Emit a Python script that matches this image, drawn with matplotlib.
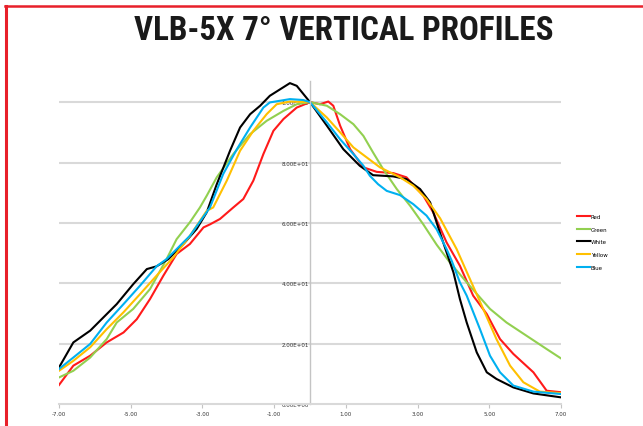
import matplotlib
matplotlib.use("Agg")
import matplotlib.pyplot as plt
from matplotlib.lines import Line2D

title = "VLB-5X 7° VERTICAL PROFILES"
series_names = ["Red", "Green", "White", "Yellow", "Blue"]
series_colors = ["#ff1a1a", "#92d050", "#000000", "#ffc000", "#00b0f0"]

red_x = [-7.0, -6.6, -6.13, -5.67, -5.2, -4.83, -4.46, -4.09, -3.72, -3.35, -2.97, -2.79, -2.51, -2.14, -1.86,
         -1.58, -1.3, -1.02, -0.74, -0.37, 0.0, 0.28, 0.51, 0.65, 0.84, 1.12, 1.49, 1.86, 2.32, 2.69, 3.16,
         3.44, 3.81, 4.18, 4.55, 4.93, 5.3, 5.67, 6.23, 6.6, 7.0]
red_y = [6.3, 12.7, 16.0, 20.4, 23.7, 28.1, 34.8, 42.5, 49.7, 53.0, 58.5, 59.5, 61.3, 65.1, 67.9,
         74.0, 82.8, 90.5, 94.4, 98.2, 100.0, 99.3, 100.2, 98.8, 92.2, 84.4, 78.4, 76.9, 76.5, 75.1, 69.0,
         63.4, 53.5, 45.8, 35.9, 29.8, 21.5, 16.6, 10.5, 4.4, 3.9]

green_x = [-7.0, -6.6, -6.13, -5.67, -5.39, -4.93, -4.46, -4.0, -3.72, -3.35, -3.07, -2.88, -2.6, -2.14, -1.67,
           -1.21, -0.74, -0.37, 0.0, 0.47, 0.84, 1.21, 1.49, 1.76, 2.04, 2.42, 2.79, 3.16, 3.53, 3.9, 4.37,
           5.02, 5.48, 6.04, 6.6, 7.0]
green_y = [8.8, 11.0, 15.4, 21.5, 27.0, 31.5, 38.1, 48.0, 54.6, 60.2, 65.1, 69.0, 75.1, 82.8, 89.4,
           93.8, 97.1, 99.3, 100.0, 98.8, 96.0, 92.7, 88.8, 83.3, 77.8, 71.2, 65.7, 59.5, 52.8, 46.9, 40.3,
           31.5, 27.0, 22.6, 18.2, 15.1]

white_x = [-7.0, -6.6, -6.13, -5.39, -4.93, -4.55, -4.28, -3.95, -3.53, -3.16, -2.88, -2.6, -2.23, -1.95, -1.67,
           -1.39, -1.12, -0.56, -0.37, 0.0, 0.47, 0.93, 1.39, 1.76, 2.32, 2.69, 3.07, 3.35, 3.63, 4.0, 4.18,
           4.37, 4.65, 4.93, 5.2, 5.67, 6.23, 7.0]
white_y = [12.1, 20.4, 24.3, 33.1, 39.7, 44.7, 45.6, 48.0, 53.0, 58.0, 63.5, 72.8, 83.9, 91.6, 96.0,
           98.8, 102.1, 106.3, 105.4, 100.0, 92.2, 84.4, 78.9, 75.8, 75.4, 74.5, 71.2, 66.8, 56.5, 43.6, 34.8,
           27.0, 17.1, 10.5, 8.3, 5.5, 3.5, 2.2]

yellow_x = [-7.0, -6.6, -6.13, -5.67, -5.2, -4.74, -4.28, -3.81, -3.35, -2.88, -2.7, -2.32, -1.95, -1.58, -1.21,
            -0.93, -0.56, 0.0, 0.47, 0.84, 1.21, 1.58, 1.95, 2.51, 2.88, 3.25, 3.63, 4.09, 4.46, 4.83, 5.2,
            5.58, 5.95, 6.41, 7.0]
yellow_y = [11.0, 14.3, 18.8, 24.8, 30.4, 36.4, 42.5, 48.6, 55.7, 64.0, 65.1, 74.0, 83.9, 90.5, 96.0,
            99.3, 100.2, 100.0, 94.9, 90.0, 85.0, 81.7, 78.4, 75.1, 72.3, 67.9, 61.5, 51.3, 41.4, 31.5, 21.5,
            12.7, 7.2, 4.1, 3.6]

blue_x = [-7.0, -6.6, -6.13, -5.67, -5.2, -4.74, -4.28, -4.0, -3.72, -3.35, -2.88, -2.79, -2.42, -2.04, -1.67,
          -1.3, -1.12, -0.56, -0.19, 0.0, 0.47, 0.84, 1.21, 1.49, 1.67, 1.9, 2.14, 2.51, 2.88, 3.25, 3.53,
          3.81, 3.95, 4.18, 4.37, 4.74, 5.02, 5.3, 5.67, 6.23, 7.0]
blue_y = [11.6, 15.4, 19.9, 27.0, 33.1, 39.2, 45.6, 48.0, 51.3, 55.7, 63.6, 65.1, 76.2, 84.4, 91.6,
          98.2, 99.9, 101.0, 100.7, 100.0, 93.3, 87.7, 82.8, 78.9, 75.6, 72.8, 70.6, 69.2, 66.2, 62.4, 57.9,
          51.3, 47.5, 40.3, 35.9, 24.8, 16.0, 10.5, 6.1, 4.1, 3.3]

x_ticks = [-7, -5, -3, -1, 1, 3, 5, 7]
x_tick_labels = ["-7.00", "-5.00", "-3.00", "-1.00", "1.00", "3.00", "5.00", "7.00"]
y_ticks = [0, 20, 40, 60, 80, 100]
y_tick_labels = ["0.00E+00", "2.00E+01", "4.00E+01", "6.00E+01", "8.00E+01", "1.00E+02"]

xs = [red_x, green_x, white_x, yellow_x, blue_x]
ys = [red_y, green_y, white_y, yellow_y, blue_y]

W, H = 643, 427
fig = plt.figure(figsize=(W / 100, H / 100), dpi=100)
fig.patch.set_facecolor("white")

ax = fig.add_axes([59 / W, (H - 405) / H, (561 - 59) / W, (405 - 82) / H])
ax.set_xlim(-7, 7)
ax.set_ylim(0, 107)

for yv in y_ticks[1:]:
    ax.axhline(yv, color="#d9d9d9", lw=1.5, zorder=0)

for x, y, c, n in zip(xs, ys, series_colors, series_names):
    ax.plot(x, y, color=c, lw=1.5, label=n, solid_joinstyle="round")

for s in ["top", "right"]:
    ax.spines[s].set_visible(False)
ax.spines["left"].set_position(("data", 0))
ax.spines["left"].set_color("#c4c4c4")
ax.spines["left"].set_linewidth(1.0)
ax.spines["bottom"].set_color("#d9d9d9")
ax.spines["bottom"].set_linewidth(1.5)

ax.set_xticks(x_ticks)
ax.set_xticklabels(x_tick_labels, fontsize=4, color="#333333")
ax.set_yticks(y_ticks)
ax.set_yticklabels(y_tick_labels, fontsize=4, color="#333333")
ax.tick_params(axis="x", length=3, width=0.8, color="#c4c4c4", pad=2)
ax.tick_params(axis="y", length=0, pad=1)

leg = fig.legend(*ax.get_legend_handles_labels(), loc="upper left",
                 bbox_to_anchor=(577 / W, 1 - 215 / H), bbox_transform=fig.transFigure,
                 frameon=False, fontsize=4, handlelength=2.4, handletextpad=0.05,
                 labelspacing=1.38, borderpad=0, borderaxespad=0)

fam = ["Roboto Condensed", "Liberation Sans Narrow", "Roboto", "DejaVu Sans"]
t = fig.text(344 / W, 1 - 31 / H, title, ha="center", va="center", fontsize=21, fontweight="bold",
             color="#1a1a1a", family=fam)
fig.canvas.draw()
w = t.get_window_extent(fig.canvas.get_renderer()).width
t.set_fontsize(21 * 418 / w)

fig.add_artist(Line2D([5 / W, 1.0], [1 - 7 / H, 1 - 7 / H], color="#e8202a", lw=1.8,
                      transform=fig.transFigure))
fig.add_artist(Line2D([6 / W, 6 / W], [0.0, 1 - 7 / H], color="#e8202a", lw=2.2,
                      transform=fig.transFigure))

fig.savefig("out.png", dpi=100, facecolor="white")
